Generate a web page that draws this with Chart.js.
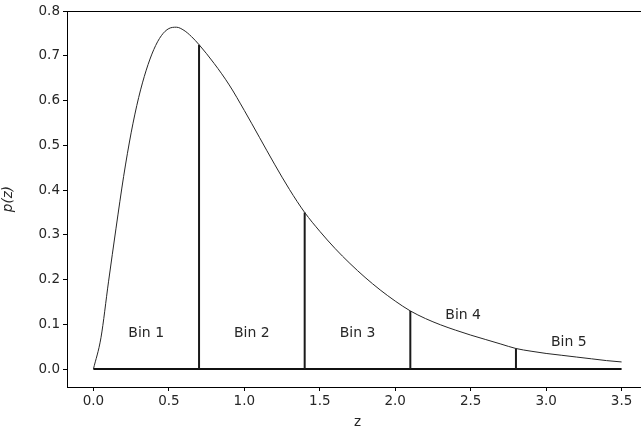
<!DOCTYPE html>
<html>
<head>
<meta charset="utf-8">
<script src="https://cdn.jsdelivr.net/npm/chart.js@4/dist/chart.umd.min.js"></script>
<style>
  html, body { margin: 0; padding: 0; background: #fff; overflow: hidden; }
  #wrap { position: relative; width: 650px; height: 431px; }
</style>
</head>
<body>
<div id="wrap"><canvas id="c" width="650" height="431"></canvas></div>
<script>
// ---- data ----
const zValues = [0.0, 0.05, 0.1, 0.15, 0.2, 0.25, 0.3, 0.35, 0.4, 0.45, 0.5, 0.55, 0.6, 0.65, 0.7,
  0.8, 0.9, 1.0, 1.1, 1.2, 1.3, 1.4, 1.5, 1.6, 1.7, 1.8, 1.9, 2.0, 2.1, 2.2, 2.3, 2.4, 2.5,
  2.6, 2.7, 2.8, 2.9, 3.0, 3.1, 3.2, 3.3, 3.4, 3.5];
const pValues = [0.0, 0.07, 0.195, 0.315, 0.43, 0.528, 0.607, 0.668, 0.714, 0.745, 0.761, 0.764, 0.757, 0.743, 0.725,
  0.683, 0.635, 0.578, 0.518, 0.458, 0.401, 0.35, 0.308, 0.27, 0.236, 0.205, 0.177, 0.152, 0.13, 0.113, 0.099, 0.087, 0.076,
  0.066, 0.056, 0.046, 0.040, 0.035, 0.031, 0.027, 0.023, 0.019, 0.016];
const binEdges = [0.0, 0.7, 1.4, 2.1, 2.8, 3.5];
const binLabels = ["Bin 1", "Bin 2", "Bin 3", "Bin 4", "Bin 5"];
const binLabelY = [0.08, 0.08, 0.08, 0.12, 0.06];
const xTicks = [0.0, 0.5, 1.0, 1.5, 2.0, 2.5, 3.0, 3.5];
const yTicks = [0.0, 0.1, 0.2, 0.3, 0.4, 0.5, 0.6, 0.7, 0.8];

// ---- build datasets ----
const curve = zValues.map((z, i) => ({ x: z, y: pValues[i] }));
function pAt(z) {
  const i = zValues.findIndex(v => Math.abs(v - z) < 1e-9);
  return pValues[i];
}
const datasets = [];
datasets.push({
  data: curve, showLine: true, borderColor: '#262626', borderWidth: 1,
  pointRadius: 0, cubicInterpolationMode: 'monotone', fill: false
});
binEdges.slice(1, -1).forEach(e => {
  datasets.push({
    data: [{ x: e, y: 0 }, { x: e, y: pAt(e) }], showLine: true,
    borderColor: '#1a1a1a', borderWidth: 2, pointRadius: 0
  });
});
datasets.push({
  data: [{ x: binEdges[0], y: 0 }, { x: binEdges[binEdges.length - 1], y: 0 }], showLine: true,
  borderColor: '#111', borderWidth: 2, pointRadius: 0
});

const frame = {
  id: 'frame',
  afterDraw(chart) {
    const { ctx, chartArea: a, scales } = chart;
    ctx.save();
    ctx.strokeStyle = '#000';
    ctx.lineWidth = 1;
    ctx.strokeRect(Math.round(a.left) + 0.5, Math.round(a.top) + 0.5,
      Math.round(a.right - a.left), Math.round(a.bottom - a.top));
    ctx.fillStyle = '#262626';
    ctx.font = '14px "DejaVu Sans"';
    ctx.textAlign = 'center';
    ctx.textBaseline = 'middle';
    binLabels.forEach((t, i) => {
      const cx = (binEdges[i] + binEdges[i + 1]) / 2;
      ctx.fillText(t, scales.x.getPixelForValue(cx), scales.y.getPixelForValue(binLabelY[i]));
    });
    ctx.restore();
  }
};

const tickFont = { family: 'DejaVu Sans', size: 13.5 };
new Chart(document.getElementById('c'), {
  type: 'scatter',
  data: { datasets },
  options: {
    responsive: false, animation: false,
    layout: { padding: { top: 9, right: 2, left: 0, bottom: 0 } },
    plugins: { legend: { display: false }, tooltip: { enabled: false } },
    scales: {
      x: {
        type: 'linear', min: -0.175, max: 3.675,
        afterBuildTicks: s => { s.ticks = xTicks.map(v => ({ value: v })); },
        afterFit: s => { s.height = 44; },
        ticks: { font: tickFont, color: '#262626', padding: 2, maxRotation: 0,
          callback: v => v.toFixed(1) },
        grid: { drawOnChartArea: false, drawTicks: true, tickLength: 4, color: '#000' },
        border: { display: true, color: '#000' },
        title: { display: true, text: 'z', font: { family: 'DejaVu Sans', size: 13.5 }, color: '#262626', padding: { top: 0, bottom: 0 } }
      },
      y: {
        type: 'linear', min: -0.04, max: 0.8,
        afterBuildTicks: s => { s.ticks = yTicks.map(v => ({ value: v })); },
        afterFit: s => { s.width = 67; },
        ticks: { font: tickFont, color: '#262626', padding: 3,
          callback: v => v.toFixed(1) },
        grid: { drawOnChartArea: false, drawTicks: true, tickLength: 4, color: '#000' },
        border: { display: true, color: '#000' },
        title: { display: true, text: 'p(z)', font: { family: 'DejaVu Sans', size: 13.5, style: 'italic' }, color: '#262626', padding: { top: 0, bottom: 0 } }
      }
    }
  },
  plugins: [frame]
});
</script>
</body>
</html>
